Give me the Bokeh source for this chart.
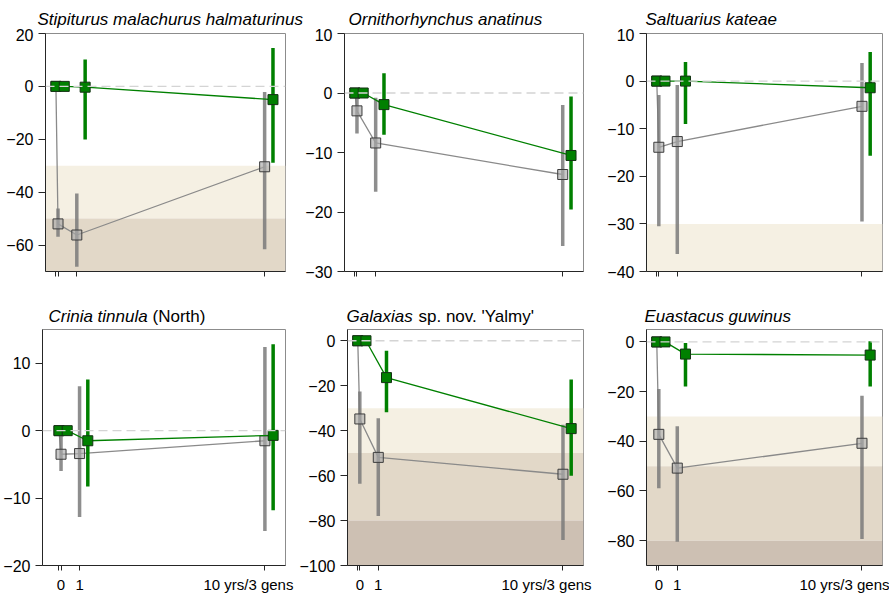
from bokeh.plotting import figure
from bokeh.layouts import row, column
from bokeh.models import BoxAnnotation, Span, FixedTicker, LinearAxis
from bokeh.core.properties import value
from bokeh.embed import file_html
from bokeh.resources import INLINE

# ---------------- data ----------------
titles_italic = ["Stipiturus malachurus halmaturinus", "Ornithorhynchus anatinus", "Saltuarius kateae",
                 "Crinia tinnula", "Galaxias", "Euastacus guwinus"]
titles_plain = ["", "", "", "(North)", "sp. nov. 'Yalmy'", ""]

time_gray = [0, 0.1, 1, 10]
time_green = [0, 0.4, 1.4, 10.4]
x_ticks = [0, 0.1, 1, 10]
x_label_pos = [0.1, 1, 9.2]
x_labels = ["0", "1", "10 yrs/3 gens"]

y_limits = [(-70, 20), (-30, 10), (-40, 10), (-20, 15), (-100, 5), (-90, 5)]
y_ticks = [[-60, -40, -20, 0, 20], [-30, -20, -10, 0, 10], [-40, -30, -20, -10, 0, 10],
           [-20, -10, 0, 10], [-100, -80, -60, -40, -20, 0], [-80, -60, -40, -20, 0]]

# gray series (values at time_gray), intervals at time_gray[1:]
gray_mid = [[0, -52.0, -56.2, -30.4], [0, -3.0, -8.4, -13.7], [0, -13.9, -12.7, -5.3],
            [0, -3.5, -3.4, -1.5], [0, -34.8, -51.9, -59.4], [0, -37.2, -50.8, -40.8]]
gray_lo = [[-56.9, -68.2, -61.6], [-6.8, -16.6, -25.7], [-30.5, -36.3, -29.5],
           [-6.0, -12.8, -14.9], [-63.6, -78.0, -88.7], [-58.9, -80.4, -79.3]]
gray_hi = [[-46.2, -40.5, -2.1], [-0.3, -0.8, -2.0], [-2.9, -0.8, 3.8],
           [-0.7, 6.6, 12.4], [-22.6, -34.5, -37.4], [-19.0, -33.9, -21.7]]

# green series (values at time_green), intervals at time_green[2:]
green_mid = [[0, 0, -0.3, -5.0], [0, 0, -1.95, -10.5], [0, 0, 0.0, -1.4],
             [0, 0, -1.5, -0.7], [0, 0, -16.4, -39.1], [0, 0, -4.9, -5.3]]
green_lo = [[-20.1, -28.9], [-7.0, -19.6], [-9.0, -15.7], [-8.3, -11.8], [-31.8, -60.1], [-17.9, -17.9]]
green_hi = [[10.2, 14.5], [3.3, -0.6], [4.0, 6.1], [7.6, 12.8], [-4.4, -17.2], [-0.4, 0.3]]

band_tops = [-30, -50, -80]
band_bottoms = [-50, -80, -1000]

# ---------------- style / layout ----------------
FONT = "Liberation Sans"
PAGE_W = 889
band_colors = ["#F5F0E3", "#E2D8C8", "#CDC0B3"]
col_widths = [296, 308, 285]
row_heights = [272, 269]          # panel figure heights
title_heights = [28, 26]
title_baselines = [9, 10]
title_x = [[37, 348, 645], [48, 346, 644]]
plain_offsets = {"Crinia tinnula": 104, "Galaxias": 72}
border_left = [[45, 48, 39], [39, 48, 39]]
border_top = [5, 3]
frame_w = [[240, 239, 239], [246, 239, 239]]
frame_h = [238, 239]
x_starts = [[-0.5, -0.5, -0.5], [-0.8, -0.5, -0.5]]


def minus(v):
    return str(v).replace("-", "\u2212")


def make_title_row(r):
    h = title_heights[r]
    f = figure(width=PAGE_W, height=h, x_range=(0, PAGE_W), y_range=(0, h), title=None,
               x_axis_type=None, y_axis_type=None, min_border=0,
               output_backend="svg", toolbar_location=None)
    f.outline_line_color = None
    it = titles_italic[3 * r:3 * r + 3]
    pl = titles_plain[3 * r:3 * r + 3]
    xs = title_x[r]
    f.text(x=xs, y=[title_baselines[r]] * 3, text=it, text_font=value(FONT),
           text_font_style="italic", text_font_size="17px", text_baseline="alphabetic",
           text_color="black")
    px, pt = [], []
    for x, a, b in zip(xs, it, pl):
        if b:
            px.append(x + plain_offsets[a])
            pt.append(b)
    if pt:
        f.text(x=px, y=[title_baselines[r]] * len(pt), text=pt, text_font=value(FONT),
               text_font_size="17px", text_baseline="alphabetic", text_color="black")
    return f


def make_panel(i):
    r, c = divmod(i, 3)
    W, H = col_widths[c], row_heights[r]
    bl, bt = border_left[r][c], border_top[r]
    br = W - bl - frame_w[r][c]
    bb = H - bt - frame_h[r]
    ylo, yhi = y_limits[i]
    xs = x_starts[r][c]
    p = figure(width=W, height=H, x_range=(xs, 11), y_range=(ylo, yhi), title=None,
               min_border_left=bl, min_border_right=br, min_border_top=bt, min_border_bottom=bb,
               output_backend="svg", toolbar_location=None)
    p.xgrid.visible = False
    p.ygrid.visible = False
    p.outline_line_color = "#8C8C8C"
    p.outline_line_width = 1
    p.background_fill_color = "white"
    p.border_fill_color = "white"

    for top, bot, col in zip(band_tops, band_bottoms, band_colors):
        p.add_layout(BoxAnnotation(top=top, bottom=bot, fill_color=col, fill_alpha=1.0,
                                   line_color=None, level="underlay"))
    p.add_layout(Span(location=0, dimension="width", line_color="#D4D4D4",
                      line_dash="9 5", line_width=1.4))

    # gray scenario
    p.line(time_gray, gray_mid[i], line_color="#8A8A8A", line_width=1.3)
    p.segment(x0=time_gray[1:], y0=gray_lo[i], x1=time_gray[1:], y1=gray_hi[i],
              line_color="#7A7A7A", line_alpha=0.85, line_width=3.5)
    p.scatter(time_gray, gray_mid[i], marker="square", size=10,
              fill_color="#ABABAB", fill_alpha=0.65, line_color="#3C3C3C", line_width=1)

    # green scenario
    p.line(time_green, green_mid[i], line_color="#008000", line_width=1.3)
    p.segment(x0=time_green[2:], y0=green_lo[i], x1=time_green[2:], y1=green_hi[i],
              line_color="#008000", line_width=3.5)
    p.scatter(time_green, green_mid[i], marker="square", size=10,
              fill_color="#008000", line_color="#143214", line_width=1)

    # axes
    for ax in (p.xaxis[0], p.yaxis[0]):
        ax.axis_line_color = "#262626"
        ax.major_tick_line_color = "#262626"
        ax.minor_tick_line_color = None
        ax.major_tick_in = 0
        ax.major_label_text_font = FONT
        ax.major_label_text_color = "black"
    p.xaxis.ticker = FixedTicker(ticks=x_ticks)
    p.xaxis.major_tick_out = 5
    p.xaxis.major_label_standoff = 0
    p.xaxis.major_label_overrides = {t: "" for t in x_ticks}
    p.xaxis.major_label_text_font_size = "1px"
    if r == 1:
        lab_ax = LinearAxis(ticker=FixedTicker(ticks=x_label_pos),
                            major_label_overrides={t: s for t, s in zip(x_label_pos, x_labels)},
                            axis_line_color=None, major_tick_line_color=None,
                            minor_tick_line_color=None, major_tick_out=0, major_tick_in=0,
                            major_label_standoff=5, major_label_text_font=FONT,
                            major_label_text_font_size="15px", major_label_text_color="black")
        p.add_layout(lab_ax, "below")
    p.yaxis.ticker = FixedTicker(ticks=y_ticks[i])
    p.yaxis.major_label_overrides = {t: minus(t) for t in y_ticks[i]}
    p.yaxis.major_tick_out = 7
    p.yaxis.major_label_standoff = 5
    p.yaxis.major_label_text_font_size = "16px"
    return p


panels = [make_panel(i) for i in range(6)]
layout = column(make_title_row(0), row(*panels[:3], spacing=0),
                make_title_row(1), row(*panels[3:], spacing=0), spacing=0)

open("out.html", "w").write(file_html(layout, INLINE))
